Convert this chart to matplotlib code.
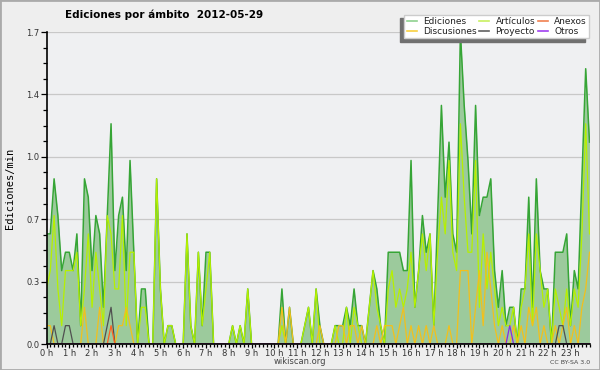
import matplotlib
matplotlib.use("Agg")
import matplotlib.pyplot as plt
from matplotlib.lines import Line2D
from matplotlib.patches import Rectangle
from matplotlib import font_manager
import numpy as np

# edits per minute, one value per 10-minute slot (144 slots, 0h00 .. 23h50)
EDICIONES = [
    0.6, 0.6, 0.9, 0.7, 0.4, 0.5, 0.5, 0.4, 0.6, 0.1, 0.9, 0.8,
    0.4, 0.7, 0.6, 0.2, 0.7, 1.2, 0.4, 0.7, 0.8, 0.4, 1.0, 0.5,
    0.0, 0.3, 0.3, 0.0, 0.0, 0.9, 0.3, 0.0, 0.1, 0.1, 0.0, 0.0,
    0.0, 0.6, 0.1, 0.0, 0.5, 0.1, 0.5, 0.5, 0.0, 0.0, 0.0, 0.0,
    0.0, 0.1, 0.0, 0.1, 0.0, 0.3, 0.0, 0.0, 0.0, 0.0, 0.0, 0.0,
    0.0, 0.0, 0.3, 0.0, 0.2, 0.0, 0.0, 0.0, 0.1, 0.2, 0.0, 0.3,
    0.1, 0.0, 0.0, 0.0, 0.1, 0.1, 0.1, 0.2, 0.1, 0.3, 0.1, 0.1,
    0.0, 0.2, 0.4, 0.3, 0.1, 0.0, 0.5, 0.5, 0.5, 0.5, 0.4, 0.4,
    1.0, 0.2, 0.4, 0.7, 0.5, 0.6, 0.1, 0.7, 1.3, 0.8, 1.1, 0.6,
    0.5, 1.7, 1.3, 1.0, 0.6, 1.3, 0.7, 0.8, 0.8, 0.9, 0.4, 0.2,
    0.4, 0.1, 0.2, 0.2, 0.0, 0.3, 0.3, 0.8, 0.2, 0.9, 0.4, 0.3,
    0.3, 0.0, 0.5, 0.5, 0.5, 0.6, 0.1, 0.4, 0.3, 0.9, 1.5, 1.1,
]
ARTICULOS = [
    0.3, 0.4, 0.7, 0.3, 0.1, 0.4, 0.4, 0.4, 0.5, 0.1, 0.3, 0.6,
    0.2, 0.5, 0.3, 0.1, 0.7, 0.6, 0.3, 0.3, 0.7, 0.1, 0.5, 0.5,
    0.0, 0.2, 0.2, 0.0, 0.0, 0.9, 0.3, 0.0, 0.1, 0.1, 0.0, 0.0,
    0.0, 0.6, 0.1, 0.0, 0.5, 0.1, 0.3, 0.5, 0.0, 0.0, 0.0, 0.0,
    0.0, 0.1, 0.0, 0.1, 0.0, 0.3, 0.0, 0.0, 0.0, 0.0, 0.0, 0.0,
    0.0, 0.0, 0.1, 0.0, 0.0, 0.0, 0.0, 0.0, 0.1, 0.2, 0.0, 0.3,
    0.0, 0.0, 0.0, 0.0, 0.1, 0.0, 0.0, 0.2, 0.0, 0.2, 0.1, 0.0,
    0.0, 0.2, 0.4, 0.2, 0.1, 0.0, 0.3, 0.4, 0.2, 0.3, 0.2, 0.3,
    0.5, 0.2, 0.4, 0.6, 0.4, 0.6, 0.1, 0.5, 0.8, 0.6, 1.0, 0.5,
    0.4, 1.2, 0.8, 0.5, 0.5, 1.0, 0.2, 0.6, 0.3, 0.5, 0.3, 0.1,
    0.2, 0.1, 0.1, 0.2, 0.0, 0.2, 0.3, 0.6, 0.1, 0.6, 0.4, 0.2,
    0.3, 0.0, 0.3, 0.2, 0.1, 0.3, 0.1, 0.3, 0.2, 0.6, 1.2, 0.6,
]
DISCUSIONES = [
    0.1, 0.1, 0.0, 0.0, 0.0, 0.0, 0.0, 0.0, 0.0, 0.0, 0.2, 0.0,
    0.0, 0.0, 0.2, 0.0, 0.0, 0.0, 0.0, 0.1, 0.1, 0.2, 0.1, 0.0,
    0.0, 0.0, 0.0, 0.0, 0.0, 0.0, 0.0, 0.0, 0.0, 0.0, 0.0, 0.0,
    0.0, 0.0, 0.0, 0.0, 0.0, 0.0, 0.0, 0.0, 0.0, 0.0, 0.0, 0.0,
    0.0, 0.0, 0.0, 0.0, 0.0, 0.0, 0.0, 0.0, 0.0, 0.0, 0.0, 0.0,
    0.0, 0.0, 0.2, 0.0, 0.2, 0.0, 0.0, 0.0, 0.0, 0.0, 0.0, 0.0,
    0.1, 0.0, 0.0, 0.0, 0.0, 0.1, 0.1, 0.0, 0.1, 0.1, 0.0, 0.1,
    0.0, 0.0, 0.0, 0.1, 0.0, 0.1, 0.1, 0.1, 0.0, 0.1, 0.2, 0.0,
    0.1, 0.0, 0.1, 0.0, 0.1, 0.0, 0.1, 0.0, 0.0, 0.0, 0.1, 0.0,
    0.0, 0.4, 0.4, 0.4, 0.0, 0.2, 0.4, 0.1, 0.5, 0.3, 0.1, 0.0,
    0.1, 0.0, 0.0, 0.1, 0.0, 0.1, 0.0, 0.2, 0.1, 0.2, 0.0, 0.1,
    0.0, 0.0, 0.1, 0.0, 0.1, 0.2, 0.0, 0.1, 0.0, 0.2, 0.3, 0.5,
]
PROYECTO = [
    0.0, 0.0, 0.1, 0.0, 0.0, 0.1, 0.1, 0.0, 0.0, 0.0, 0.0, 0.0,
    0.0, 0.0, 0.0, 0.0, 0.1, 0.2, 0.0, 0.0, 0.0, 0.0, 0.0, 0.0,
] + [0.0] * 108 + [
    0.0, 0.0, 0.0, 0.1, 0.1, 0.0, 0.0, 0.0, 0.0, 0.0, 0.0, 0.0,
]
ANEXOS = [
    0.0, 0.0, 0.0, 0.0, 0.0, 0.0, 0.0, 0.0, 0.0, 0.0, 0.0, 0.0,
    0.0, 0.0, 0.0, 0.0, 0.0, 0.1, 0.0, 0.0, 0.0, 0.0, 0.0, 0.0,
] + [0.0] * 120
OTROS = [0.0] * 120 + [
    0.0, 0.0, 0.1, 0.0, 0.0, 0.0, 0.0, 0.0, 0.0, 0.0, 0.0, 0.0,
] + [0.0] * 12

HOUR_LABELS = [f"{h} h" for h in range(24)]
Y_TICKS = [0.0, 0.34, 0.68, 1.02, 1.36, 1.7]

x = np.arange(len(EDICIONES))

fig = plt.figure(figsize=(6, 3.7), dpi=100, facecolor="#eeeeee")
ax = fig.add_axes([46.5 / 600, 26 / 370, 543 / 600, 312 / 370])
ax.set_facecolor("#eff0f2")

ax.fill_between(x, 0, EDICIONES, color="#9cca9c", lw=0, zorder=2)
ax.plot(x, EDICIONES, color="#36a536", lw=1.1, zorder=3)
ax.plot(x, ARTICULOS, color="#b6f000", lw=0.9, zorder=4)
ax.plot(x, DISCUSIONES, color="#f2c01c", lw=0.9, zorder=5)
ax.plot(x, PROYECTO, color="#505050", lw=0.9, zorder=6)
ax.plot(x, ANEXOS, color="#ff6020", lw=0.9, zorder=6)
ax.plot(x, OTROS, color="#8a2be2", lw=0.9, zorder=6)

ax.set_xlim(0, len(EDICIONES) - 1)
ax.set_ylim(0, 1.7)
ax.set_xticks(np.arange(0, 144, 6))
ax.set_xticklabels(HOUR_LABELS)
ax.set_xticks(np.arange(0, 144), minor=True)
ax.set_yticks(Y_TICKS)
ax.set_yticklabels([f"{v:.1f}" for v in Y_TICKS])
ax.set_yticks(np.linspace(0, 1.7, 21), minor=True)
ax.tick_params(which="both", direction="out", width=0.9, color="black",
               labelsize=6, labelcolor="#333333", pad=1)
ax.tick_params(axis="y", which="major", length=4)
ax.tick_params(axis="y", which="minor", length=3)
ax.tick_params(axis="x", which="major", length=3, pad=0.5)
ax.tick_params(axis="x", which="minor", length=2.5)
ax.yaxis.grid(True, color="#c8c8c8", lw=0.9)
ax.set_axisbelow(True)
for side in ("top", "right"):
    ax.spines[side].set_visible(False)
for side in ("left", "bottom"):
    ax.spines[side].set_linewidth(1.2)
    ax.spines[side].set_zorder(10)

handles = [
    Line2D([], [], color="#8fd18f", lw=1.2),
    Line2D([], [], color="#f8d040", lw=1.2),
    Line2D([], [], color="#c8f060", lw=1.2),
    Line2D([], [], color="#606060", lw=1.2),
    Line2D([], [], color="#f08050", lw=1.2),
    Line2D([], [], color="#a040f0", lw=1.2),
]
labels = ["Ediciones", "Discusiones", "Artículos", "Proyecto", "Anexos", "Otros"]
leg = fig.legend(handles, labels, ncol=3, loc="upper right",
                 bbox_to_anchor=(594 / 600, 1 - 10 / 370), fontsize=6.5,
                 frameon=True, fancybox=False, framealpha=1, edgecolor="#cccccc",
                 handlelength=1.1, handletextpad=0.7, columnspacing=0.3,
                 borderpad=0.3, labelspacing=0.05,
                 shadow={"ox": -3, "oy": -2.5, "color": "#707070", "alpha": 1})
for t in leg.get_texts():
    t.set_color("#222222")

# narrow bold face for the title if one is installed
names = {f.name for f in font_manager.fontManager.ttflist}
title_family = "Liberation Sans Narrow" if "Liberation Sans Narrow" in names else "DejaVu Sans"
title_size = 9 if title_family != "DejaVu Sans" else 7.5
fig.text(164 / 600, 1 - 15 / 370, "Ediciones por ámbito  2012-05-29",
         ha="center", va="center", fontsize=title_size, fontweight="bold",
         family=title_family)
fig.text(10 / 600, 1 - 188 / 370, "Ediciones/min", rotation=90,
         ha="center", va="center", fontsize=7.5, family="DejaVu Sans Mono")
fig.text(300 / 600, 1 - 362 / 370, "wikiscan.org", ha="center", va="center",
         fontsize=6, color="#444444")
fig.text(590 / 600, 1 - 362 / 370, "CC BY-SA 3.0", ha="right", va="center",
         fontsize=4.5, color="#444444")

fig.patches.append(Rectangle((0, 0), 1, 1, transform=fig.transFigure,
                             fill=False, edgecolor="#aaaaaa", lw=2))

fig.savefig("out.png", dpi=100, facecolor=fig.get_facecolor())
